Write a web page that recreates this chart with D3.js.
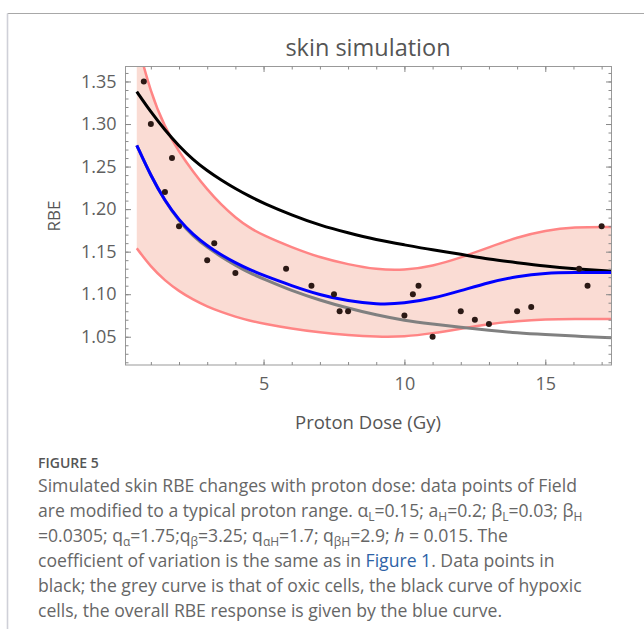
<!DOCTYPE html>
<html><head><meta charset="utf-8">
<script src="https://cdn.jsdelivr.net/npm/d3@7"></script>
<style>
body{margin:0;background:#fff;}
svg text{font-family:"Open Sans",sans-serif;}
</style></head>
<body><svg id="c" width="644" height="629"></svg>
<script>
// ---- data ----
const pointDose = [0.75,1.0,1.5,1.75,2.0,3.0,3.25,4.0,5.8,6.7,7.5,7.7,8.0,10.0,10.3,10.5,11.0,12.0,12.5,13.0,14.0,14.5,16.2,16.5,17.0];
const pointRBE  = [1.35,1.30,1.22,1.26,1.18,1.14,1.16,1.125,1.13,1.11,1.10,1.08,1.08,1.075,1.10,1.11,1.05,1.08,1.07,1.065,1.08,1.085,1.13,1.11,1.18];

const curveDose = [0.5,1,1.5,2,2.5,3,3.5,4,4.5,5,6,7,8,9,10,11,12,13,14,15,16,17.35];
const hypoxicRBE = [1.338,1.314,1.293,1.274,1.258,1.245,1.234,1.224,1.215,1.207,1.193,1.181,1.172,1.164,1.158,1.152,1.147,1.141,1.137,1.133,1.130,1.127];
const overallRBE = [1.275,1.239,1.2095,1.187,1.170,1.157,1.146,1.137,1.129,1.122,1.110,1.099,1.092,1.088,1.089,1.095,1.104,1.114,1.121,1.125,1.1256,1.1256];
const oxicRBE    = [1.275,1.239,1.2095,1.186,1.168,1.155,1.144,1.134,1.125,1.118,1.104,1.093,1.0835,1.0755,1.069,1.065,1.061,1.0575,1.0545,1.0525,1.0508,1.0488];

const bandDose  = [0.5,1,1.5,2,2.5,3,3.5,4,4.5,5,6,7,8,9,10,11,12,13,14,15,16,17.35];
const bandUpper = [1.398,1.336,1.296,1.267,1.244,1.223,1.205,1.190,1.178,1.169,1.155,1.143,1.135,1.129,1.128,1.133,1.143,1.155,1.167,1.175,1.179,1.179];
const bandLower = [1.154,1.132,1.116,1.1035,1.0935,1.0855,1.079,1.0735,1.069,1.0655,1.0595,1.055,1.052,1.050,1.050,1.054,1.0595,1.065,1.0685,1.0705,1.071,1.071];

const xTickValues = [5,10,15];
const yTickValues = [1.05,1.10,1.15,1.20,1.25,1.30,1.35];
const yTickLabels = ["1.05","1.10","1.15","1.20","1.25","1.30","1.35"];

const titleText = "skin simulation";
const xLabel = "Proton Dose (Gy)";
const yLabel = "RBE";

// ---- drawing ----
const svg = d3.select("#c");
const L=125.5, R=611.5, T=66.5, B=365;
const x = d3.scaleLinear().domain([0.1,17.35]).range([L,R]);
const y = d3.scaleLinear().domain([1.0168,1.3676]).range([B,T]);

// outer figure border (top and left)
svg.append("line").attr("x1",7.5).attr("x2",644).attr("y1",13.5).attr("y2",13.5).attr("stroke","#a8a8a8").attr("stroke-width",1);
svg.append("line").attr("x1",7.5).attr("x2",7.5).attr("y1",13.5).attr("y2",629).attr("stroke","#cfd0d8").attr("stroke-width",1.6);

svg.append("defs").append("clipPath").attr("id","clip").append("rect")
  .attr("x",L).attr("y",T).attr("width",R-L).attr("height",B-T);
const g = svg.append("g").attr("clip-path","url(#clip)");

const band = bandDose.map((d,i)=>({d, lo:bandLower[i], hi:bandUpper[i]}));
const curve = d3.curveBasis;
g.append("path").datum(band)
  .attr("d", d3.area().x(p=>x(p.d)).y0(p=>y(p.lo)).y1(p=>y(p.hi)).curve(curve))
  .attr("fill","#fadcd4");
const line = d3.line().x(p=>x(p[0])).y(p=>y(p[1])).curve(curve);
const zip = (a,b)=>a.map((v,i)=>[v,b[i]]);
g.append("path").attr("d", line(zip(bandDose,bandUpper))).attr("fill","none").attr("stroke","#ff8585").attr("stroke-width",2.5);
g.append("path").attr("d", line(zip(bandDose,bandLower))).attr("fill","none").attr("stroke","#ff8585").attr("stroke-width",2.5);
g.append("path").attr("d", line(zip(curveDose,oxicRBE))).attr("fill","none").attr("stroke","#808080").attr("stroke-width",3);
g.append("path").attr("d", line(zip(curveDose,hypoxicRBE))).attr("fill","none").attr("stroke","#000").attr("stroke-width",3);
g.append("path").attr("d", line(zip(curveDose,overallRBE))).attr("fill","none").attr("stroke","#0000ff").attr("stroke-width",3);

g.selectAll("circle.pt").data(zip(pointDose,pointRBE)).join("circle")
  .attr("class","pt").attr("cx",p=>x(p[0])).attr("cy",p=>y(p[1])).attr("r",3).attr("fill","#2b1915");

// frame
svg.append("rect").attr("x",L).attr("y",T).attr("width",R-L).attr("height",B-T)
  .attr("fill","none").attr("stroke","#999").attr("stroke-width",1);

// ticks (inside, all four sides)
const tickCol="#8a8a8a";
const xMinor = d3.range(1,18);
const yMinor = d3.range(102,137).map(v=>v/100);
const axB = d3.axisBottom(x).tickValues(xMinor).tickSize(-3).tickFormat("");
const axT = d3.axisTop(x).tickValues(xMinor).tickSize(-3).tickFormat("");
const axL = d3.axisLeft(y).tickValues(yMinor).tickSize(-3).tickFormat("");
const axR = d3.axisRight(y).tickValues(yMinor).tickSize(-3).tickFormat("");
const axBM = d3.axisBottom(x).tickValues(xTickValues).tickSize(-5.5).tickPadding(12).tickFormat(d=>String(d));
const axTM = d3.axisTop(x).tickValues(xTickValues).tickSize(-5.5).tickFormat("");
const axLM = d3.axisLeft(y).tickValues(yTickValues).tickSize(-5.5).tickPadding(9).tickFormat((d,i)=>yTickLabels[i]);
const axRM = d3.axisRight(y).tickValues(yTickValues).tickSize(-5.5).tickFormat("");
function put(ax, tr){
  const a = svg.append("g").attr("transform",tr).call(ax);
  a.select(".domain").remove();
  a.selectAll("line").attr("stroke",tickCol);
  a.selectAll("text").attr("fill","#5f5f5f").style("font-size","18px").style("font-family","Open Sans");
  return a;
}
put(axB,`translate(0,${B})`); put(axT,`translate(0,${T})`);
put(axL,`translate(${L},0)`); put(axR,`translate(${R},0)`);
put(axBM,`translate(0,${B})`); put(axTM,`translate(0,${T})`);
put(axLM,`translate(${L},0)`); put(axRM,`translate(${R},0)`);

// titles
svg.append("text").attr("x",368).attr("y",55.5).attr("text-anchor","middle")
  .attr("fill","#555").style("font-size","23.5px").text(titleText);
svg.append("text").attr("x",368).attr("y",429).attr("text-anchor","middle")
  .attr("fill","#555").style("font-size","18.5px").text(xLabel);
svg.append("text").attr("transform","translate(60,216) rotate(-90)").attr("text-anchor","middle")
  .attr("fill","#555").style("font-size","17px").text(yLabel);

// caption
svg.append("text").attr("x",38).attr("y",468).attr("fill","#555").style("font-size","14px").style("font-weight","600").text("FIGURE 5");
const capY0=491.7, capDY=25, capSize=17.6, capCol="#666";
function capLine(i, parts){
  const t = svg.append("text").attr("x",38).attr("y",capY0+capDY*i).attr("fill",capCol).style("font-size",capSize+"px");
  let shift = 0;
  parts.forEach(p=>{
    let s;
    if(typeof p==="string"){ s = t.append("tspan").text(p); }
    else if(p.sub){ s = t.append("tspan").style("font-size","12px").text(p.sub); s.attr("dy", 4 - shift); shift = 4; return; }
    else if(p.link){ s = t.append("tspan").attr("fill","#2d62a6").text(p.link); }
    else if(p.it){ s = t.append("tspan").style("font-style","italic").text(p.it); }
    if(shift){ s.attr("dy", -shift); shift = 0; }
  });
}
capLine(0,["Simulated skin RBE changes with proton dose: data points of Field"]);
capLine(1,["are modified to a typical proton range. α",{sub:"L"},"=0.15; a",{sub:"H"},"=0.2; β",{sub:"L"},"=0.03; β",{sub:"H"}]);
capLine(2,["=0.0305; q",{sub:"α"},"=1.75;q",{sub:"β"},"=3.25; q",{sub:"αH"},"=1.7; q",{sub:"βH"},"=2.9; ",{it:"h"}," = 0.015. The"]);
capLine(3,["coefficient of variation is the same as in ",{link:"Figure 1"},". Data points in"]);
capLine(4,["black; the grey curve is that of oxic cells, the black curve of hypoxic"]);
capLine(5,["cells, the overall RBE response is given by the blue curve."]);
</script></body></html>
